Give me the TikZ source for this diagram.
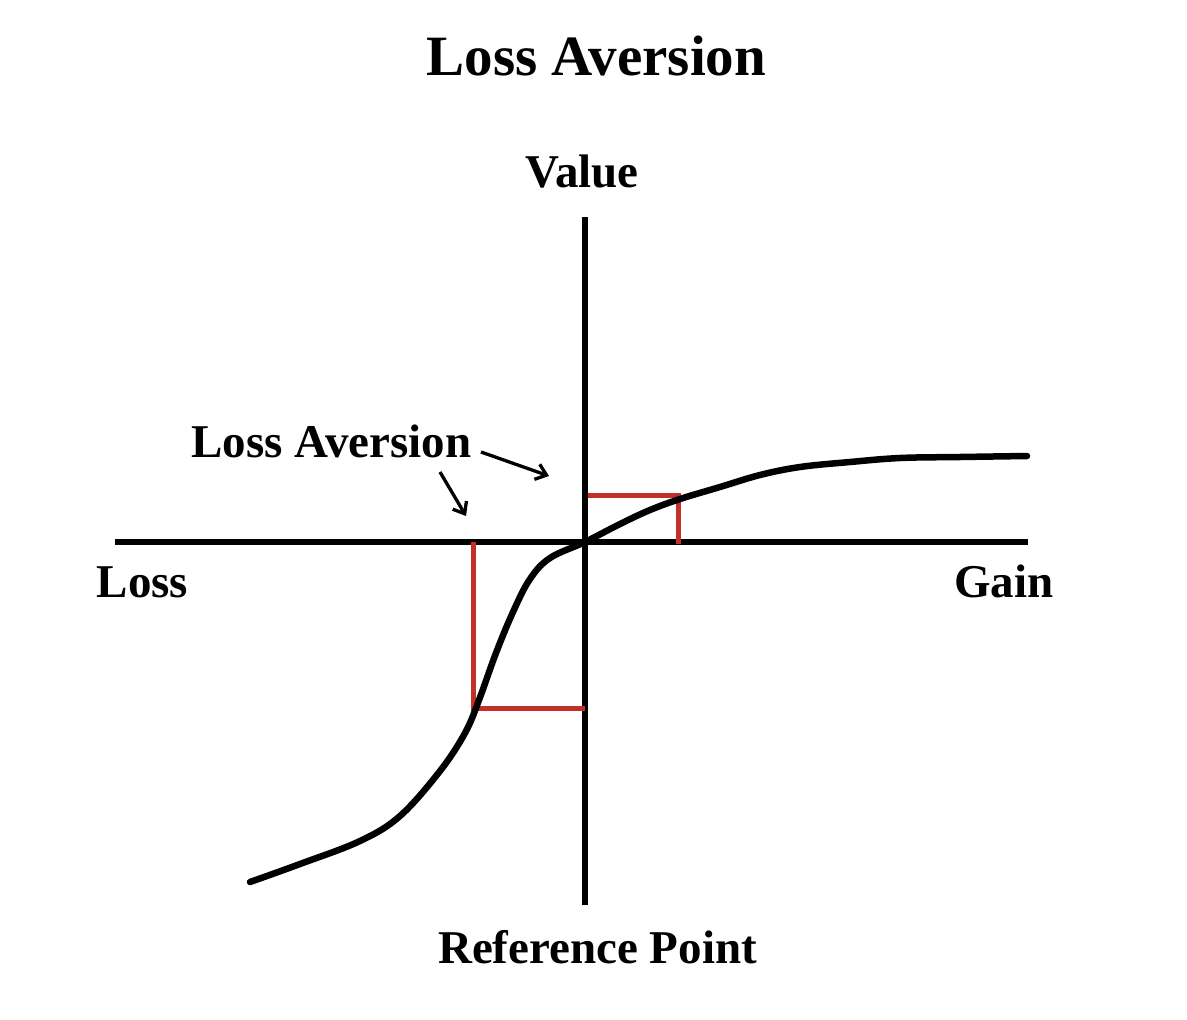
\documentclass[tikz,border=0pt]{standalone}
\usepackage{fontspec}
\setmainfont{Liberation Serif}
\usetikzlibrary{arrows.meta}
\definecolor{boxred}{HTML}{C3302A}
\tikzset{
  axisline/.style={line width=5.5pt, black},
  curveline/.style={line width=6.5pt, black, line cap=round, line join=round},
  redline/.style={line width=5pt, boxred},
  pointer/.style={line width=3.3pt, black, -{Straight Barb[length=10pt,width=16pt,line width=3.3pt]}},
  title/.style={font=\bfseries\fontsize{57}{60}\selectfont, anchor=base, inner sep=0pt},
  lbl/.style={font=\bfseries\fontsize{47}{50}\selectfont, anchor=base, inner sep=0pt}
}
\begin{document}
\begin{tikzpicture}[x=1pt,y=-1pt]
\fill[white] (0,0) rectangle (1187,1020);
\useasboundingbox (0,0) rectangle (1187,1020);

% texts
\node[title] (ttl) at (596.5,75) {Loss Aversion};
\node[lbl] (val) at (582,187) {Value};
\node[lbl] (loss) at (142.5,597) {Loss};
\node[lbl] (gain) at (1004,597) {Gain};
\node[lbl] (ref) at (597.5,963) {Reference Point};
\node[lbl] (la) at (331.5,457) {Loss Aversion};

% axes
\coordinate (xl) at (115,542);
\coordinate (xr) at (1028,542);
\coordinate (yt) at (585,217);
\coordinate (yb) at (585,905);
\draw[axisline] (xl) -- (xr);
\draw[axisline] (yt) -- (yb);

% red boxes
\draw[redline] (588,495) -- (678,495) -- (678,544);
\draw[redline] (473,542) -- (473,708) -- (585,708);

% value curve
\draw[curveline] plot[smooth, tension=0.6] coordinates {
(250,882) (300,864) (360,841) (400,816) (440,771) (465,733) (479,700)
(496,653) (513,612) (530,579) (550,558) (585,542) (620,524) (650,510)
(680,499) (720,487) (760,475) (800,467) (850,462) (900,458) (960,457)
(1027,456)};

% pointers
\coordinate (p1s) at (481,452);
\coordinate (p1e) at (549,476);
\coordinate (p2s) at (440,472);
\coordinate (p2e) at (466,516);
\draw[pointer] (p1s) -- (p1e);
\draw[pointer] (p2s) -- (p2e);
\end{tikzpicture}
\end{document}
